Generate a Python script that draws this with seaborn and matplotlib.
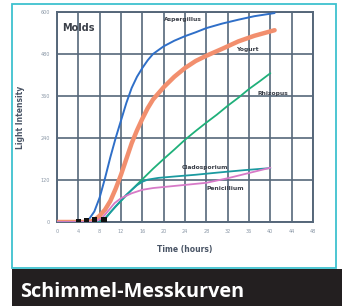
import matplotlib
matplotlib.use("Agg")
import matplotlib.pyplot as plt
import seaborn as sns
import pandas as pd
from matplotlib.patches import Rectangle

# ---- data ----
asp_h = [0, 5, 6, 7, 8, 9, 10, 11, 12, 13, 14, 15, 16, 17, 18, 20, 22, 24, 26, 28, 31, 34, 37, 40.8]
asp_v = [0, 0, 8, 30, 70, 125, 185, 240, 290, 340, 383, 415, 440, 462, 480, 502, 518, 531, 542, 554, 567, 578, 588, 597]

yog_h = [0, 6, 7, 8, 9, 10, 11, 12, 13, 14, 15, 16, 17, 18, 20, 22, 24, 26, 28, 31, 34, 37, 40.8]
yog_v = [0, 0, 5, 18, 35, 60, 95, 135, 180, 225, 262, 295, 325, 350, 385, 415, 440, 460, 475, 495, 516, 532, 548]

rhi_h = [0, 8, 9, 10, 12, 14, 16, 18, 20, 22, 24, 26, 28, 30, 32, 34, 36, 38, 40]
rhi_v = [0, 0, 10, 28, 60, 92, 122, 152, 180, 207, 235, 260, 284, 307, 332, 355, 380, 402, 425]

cla_h = [0, 8.6, 9.3, 11, 13, 15, 16, 17, 19, 22, 26, 30, 35, 40]
cla_v = [0, 0, 14, 45, 78, 105, 115, 121, 126, 130, 135, 141, 148, 154]

pen_h = [0, 7, 8.5, 9.5, 10.8, 12, 14, 16, 18, 20, 24, 28, 32, 36, 40]
pen_v = [0, 0, 12, 30, 54, 68, 82, 92, 97, 100, 106, 112, 125, 140, 155]

mark_h = [4, 5.5, 7, 8.8]
mark_v = [2, 3, 5, 5]

series_names = ["Aspergillus", "Yogurt", "Rhizopus", "Cladosporium", "Penicillium"]
x_ticks = list(range(0, 49, 4))
y_ticks = [0, 120, 240, 360, 480, 600]

colors = {"Aspergillus": "#2f6fc8", "Yogurt": "#f28f6e", "Rhizopus": "#1fb07a",
          "Cladosporium": "#1b9aa0", "Penicillium": "#d77ac8"}
widths = {"Aspergillus": 1.4, "Yogurt": 3.2, "Rhizopus": 1.3,
          "Cladosporium": 1.3, "Penicillium": 1.3}

frames = []
for name, h, v in zip(series_names, [asp_h, yog_h, rhi_h, cla_h, pen_h],
                      [asp_v, yog_v, rhi_v, cla_v, pen_v]):
    frames.append(pd.DataFrame({"hours": h, "value": v, "mold": name}))
df = pd.concat(frames, ignore_index=True)

sns.set_theme(style="white")
plt.rcParams['font.family'] = ['DejaVu Sans']

fig = plt.figure(figsize=(3.42, 3.06), dpi=100)
fig.patch.set_facecolor("white")

# cyan border box and dark caption band
fig.patches.append(Rectangle((12/342, 1-268/306), 324/342, 264/306, transform=fig.transFigure,
                             fill=False, edgecolor="#3ec1cf", linewidth=1.3, zorder=0))
fig.patches.append(Rectangle((12/342, 0), 330/342, 37/306, transform=fig.transFigure,
                             facecolor="#231f20", edgecolor="none", zorder=0))
fig.text(20/342, 1-297/306, "Schimmel-Messkurven", color="white", fontsize=14.3,
         fontweight="bold", family="Open Sans", ha="left", va="baseline")

ax = fig.add_axes([57/342, 1-222/306, 256/342, 210/306])
ax.set_facecolor("white")

grid_c = "#56677a"
for name in series_names:
    sub = df[df["mold"] == name]
    sns.lineplot(data=sub, x="hours", y="value", ax=ax, color=colors[name],
                 linewidth=widths[name], zorder=3, legend=False)
sns.scatterplot(x=mark_h, y=mark_v, ax=ax, color="#111111", marker="s", s=16,
                edgecolor="none", zorder=4)

ax.set_xlim(0, 48)
ax.set_ylim(0, 600)
ax.set_xticks(x_ticks)
ax.set_yticks(y_ticks)
ax.set_xticklabels([str(t) for t in x_ticks])
ax.set_yticklabels([str(t) for t in y_ticks])
ax.grid(True, color=grid_c, linewidth=1.4, alpha=0.85, zorder=1)
ax.set_axisbelow(True)
for s in ax.spines.values():
    s.set_color(grid_c)
    s.set_linewidth(1.4)
ax.tick_params(axis="both", labelsize=3.5, colors="#8a97a6", length=3, width=1,
               pad=2, direction="out")
ax.tick_params(axis="both", color=grid_c)

ax.set_xlabel("Time (hours)", fontsize=5.5, fontweight="bold", color="#4a5566", labelpad=8)
ax.set_ylabel("Light Intensity", fontsize=5.5, fontweight="bold", color="#4a5566", labelpad=11)

lab_c = "#3a3f48"
ax.text(1.0, 555, "Molds", fontsize=7, fontweight="bold", color=lab_c, ha="left", va="center")
ax.text(23.6, 578, "Aspergillus", fontsize=4.3, fontweight="bold", color=lab_c, ha="center", va="center")
ax.text(35.6, 494, "Yogurt", fontsize=4.3, fontweight="bold", color=lab_c, ha="center", va="center")
ax.text(40.5, 368, "Rhizopus", fontsize=4.3, fontweight="bold", color=lab_c, ha="center", va="center")
ax.text(27.8, 157, "Cladosporium", fontsize=4.3, fontweight="bold", color=lab_c, ha="center", va="center")
ax.text(31.5, 97, "Penicillium", fontsize=4.3, fontweight="bold", color=lab_c, ha="center", va="center")

fig.savefig("out.png", dpi=100)
